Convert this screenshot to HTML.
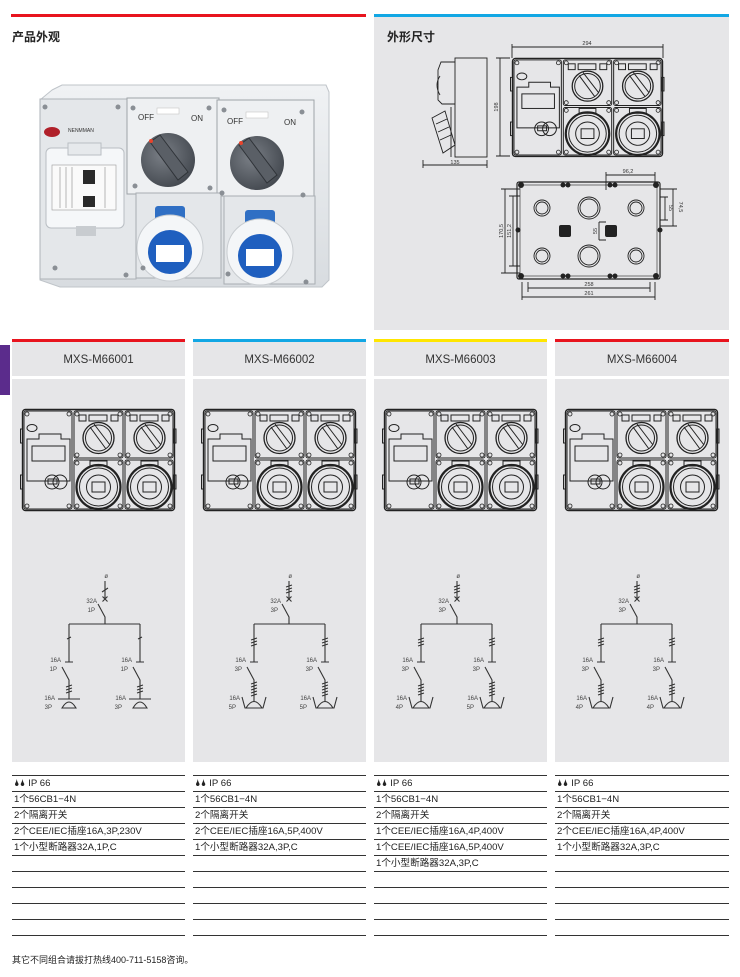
<!DOCTYPE html>
<html><head><meta charset="utf-8">
<style>
*{margin:0;padding:0;box-sizing:border-box}
body{width:740px;height:977px;background:#fff;position:relative;overflow:hidden;font-family:"Liberation Sans","Noto Sans CJK SC",sans-serif;color:#222}
.abs{position:absolute}
.gray{background:#e6e6e8}
.h{font-size:12px;font-weight:bold}
.mh{position:absolute;top:342px;height:34px;line-height:36px;text-align:center;font-size:11.5px;color:#333;background:#e6e6e8;width:173px}
.body{position:absolute;top:379px;height:383px;width:173px;background:#e6e6e8}
.tbl{position:absolute;top:775px;width:173px}
.tbl div{height:16px;border-top:1.6px solid #333;font-size:9.6px;line-height:15px;padding-left:2px;color:#222;white-space:nowrap}
</style></head><body>

<!-- top left -->
<div class="abs" style="left:11px;top:14px;width:355px;height:2.5px;background:#e8141e"></div>
<div class="abs h" style="left:12px;top:28px">产品外观</div>
<!-- top right -->
<div class="abs gray" style="left:374px;top:14px;width:355px;height:316px"></div>
<div class="abs" style="left:374px;top:14px;width:355px;height:3px;background:#12a7e4"></div>
<div class="abs h" style="left:387px;top:28px">外形尺寸</div>

<!-- purple tab -->
<div class="abs" style="left:0;top:345px;width:10px;height:50px;background:#5b2c8c"></div>

<!-- column headers -->
<div class="abs" style="left:12px;top:339px;width:173px;height:3px;background:#e8141e"></div>
<div class="abs" style="left:193px;top:339px;width:173px;height:3px;background:#12a7e4"></div>
<div class="abs" style="left:374px;top:339px;width:173px;height:3px;background:#ffe600"></div>
<div class="abs" style="left:555px;top:339px;width:174px;height:3px;background:#e8141e"></div>
<div class="mh" style="left:12px">MXS-M66001</div>
<div class="mh" style="left:193px">MXS-M66002</div>
<div class="mh" style="left:374px">MXS-M66003</div>
<div class="mh" style="left:555px;width:174px">MXS-M66004</div>
<div class="body" style="left:12px"></div>
<div class="body" style="left:193px"></div>
<div class="body" style="left:374px"></div>
<div class="body" style="left:555px;width:174px"></div>

<!-- tables -->
<div class="tbl" style="left:12px"><div>🌢🌢 IP 66</div><div>1个56CB1−4N</div><div>2个隔离开关</div><div>2个CEE/IEC插座16A,3P,230V</div><div>1个小型断路器32A,1P,C</div><div></div><div></div><div></div><div></div><div></div><div style="height:0"></div></div>
<div class="tbl" style="left:193px"><div>🌢🌢 IP 66</div><div>1个56CB1−4N</div><div>2个隔离开关</div><div>2个CEE/IEC插座16A,5P,400V</div><div>1个小型断路器32A,3P,C</div><div></div><div></div><div></div><div></div><div></div><div style="height:0"></div></div>
<div class="tbl" style="left:374px"><div>🌢🌢 IP 66</div><div>1个56CB1−4N</div><div>2个隔离开关</div><div>1个CEE/IEC插座16A,4P,400V</div><div>1个CEE/IEC插座16A,5P,400V</div><div>1个小型断路器32A,3P,C</div><div></div><div></div><div></div><div></div><div style="height:0"></div></div>
<div class="tbl" style="left:555px;width:174px"><div>🌢🌢 IP 66</div><div>1个56CB1−4N</div><div>2个隔离开关</div><div>2个CEE/IEC插座16A,4P,400V</div><div>1个小型断路器32A,3P,C</div><div></div><div></div><div></div><div></div><div></div><div style="height:0"></div></div>

<div class="abs" style="left:12px;top:953px;font-size:9px;color:#222">其它不同组合请拔打热线400-711-5158咨询。</div>

<svg class="abs" style="left:0;top:0" width="740" height="977" viewBox="0 0 740 977">
<defs>
<g id="dev" fill="none" stroke="#222" stroke-width="1">
  <rect x="0.5" y="0.5" width="152" height="101" rx="3" stroke-width="1.4"/>
  <rect x="-1.5" y="20" width="2" height="14"/><rect x="-1.5" y="66" width="2" height="14"/>
  <rect x="152" y="20" width="2" height="14"/><rect x="152" y="66" width="2" height="14"/>
  <rect x="2" y="2" width="48" height="98" rx="2"/>
  <rect x="52" y="2" width="49" height="47" rx="2"/>
  <rect x="103" y="2" width="48" height="47" rx="2"/>
  <rect x="52" y="51" width="49" height="49" rx="2"/>
  <rect x="103" y="51" width="48" height="49" rx="2"/>
  <g stroke-width="0.8">
  <circle cx="5" cy="5" r="2"/><circle cx="47" cy="5" r="2"/><circle cx="5" cy="97" r="2"/><circle cx="47" cy="97" r="2"/>
  <circle cx="55" cy="5" r="2"/><circle cx="98" cy="5" r="2"/><circle cx="55" cy="46" r="2"/><circle cx="98" cy="46" r="2"/>
  <circle cx="106" cy="5" r="2"/><circle cx="148" cy="5" r="2"/><circle cx="106" cy="46" r="2"/><circle cx="148" cy="46" r="2"/>
  <circle cx="55" cy="54" r="2"/><circle cx="98" cy="54" r="2"/><circle cx="55" cy="97" r="2"/><circle cx="98" cy="97" r="2"/>
  <circle cx="106" cy="54" r="2"/><circle cx="148" cy="54" r="2"/><circle cx="106" cy="97" r="2"/><circle cx="148" cy="97" r="2"/>
  </g>
  <ellipse cx="10" cy="19" rx="5" ry="3.5"/>
  <path d="M5 33 V30 H17 V25 H39 V30 H48 V72 H5 Z"/>
  <rect x="10" y="37" width="33" height="15"/>
  <circle cx="30" cy="73" r="7"/><circle cx="38" cy="73" r="7"/>
  <rect x="26" y="70" width="9" height="5"/>
  <g id="topm">
   <rect x="57" y="6" width="7" height="6"/><rect x="67" y="6" width="18" height="6"/><rect x="89" y="6" width="7" height="6"/>
   <circle cx="76.5" cy="29" r="15.5" stroke-width="1.3"/><circle cx="76.5" cy="29" r="13"/>
   <path d="M68 18 L84 40 M72 15 L88 36"/>
  </g>
  <use href="#topm" x="51"/>
  <g id="botm">
   <rect x="68" y="52" width="17" height="5"/>
   <circle cx="76.5" cy="78" r="22" stroke-width="2.2"/><circle cx="76.5" cy="78" r="19"/><circle cx="76.5" cy="78" r="12"/>
   <rect x="70" y="73" width="13" height="10"/>
  </g>
  <use href="#botm" x="51"/>
</g>
</defs>

<!-- column device drawings -->
<use href="#dev" x="22" y="409"/>
<use href="#dev" x="203" y="409"/>
<use href="#dev" x="384" y="409"/>
<use href="#dev" x="565" y="409"/>

<!-- dimension front view -->
<g transform="translate(512,58) scale(0.987,0.97)"><use href="#dev"/></g>

<!-- schematics -->
<g fill="none" stroke="#333" stroke-width="1.1" font-family="Liberation Sans, sans-serif">
<!-- col1 -->
<g>
 <path d="M105 581V598 M102 592 L108 588 M102.5 596.5 L107.5 601.5 M107.5 596.5 L102.5 601.5 M98 604 L105 617 V624 M69 624 H140 M69 624 V662 M65 662 H73 M140 624 V662 M136 662 H144 M67 639 L71 637 M138 639 L142 637"/>
 <path d="M62 667 L69 680 V699 M66 687 L72 685 M66 690 L72 688 M66 693 L72 691 M58 699 H80 M62 708 Q69 696 76 708 Z"/>
 <path d="M133 667 L140 680 V699 M137 687 L143 685 M137 690 L143 688 M137 693 L143 691 M129 699 H151 M133 708 Q140 696 147 708 Z"/>
</g>
<!-- col2 -->
<g>
 <path d="M289 581V598 M286 587 L292 585 M286 590 L292 588 M286 593 L292 591 M286.5 596.5 L291.5 601.5 M291.5 596.5 L286.5 601.5 M282 604 L289 617 V624 M254 624 H325 M254 624 V662 M250 662 H258 M325 624 V662 M321 662 H329 M251 640 L257 638 M251 643 L257 641 M251 646 L257 644 M322 640 L328 638 M322 643 L328 641 M322 646 L328 644"/>
 <path d="M247 667 L254 680 V702 M251 684 L257 682 M251 687 L257 685 M251 690 L257 688 M251 693 L257 691 M251 696 L257 694 M242 697 L245 708 H263 L266 697 M246 708 Q254 695 262 708"/>
 <path d="M318 667 L325 680 V702 M322 684 L328 682 M322 687 L328 685 M322 690 L328 688 M322 693 L328 691 M322 696 L328 694 M313 697 L316 708 H334 L337 697 M317 708 Q325 695 333 708"/>
</g>
<!-- col3 -->
<g>
 <path d="M457 581V598 M454 587 L460 585 M454 590 L460 588 M454 593 L460 591 M454.5 596.5 L459.5 601.5 M459.5 596.5 L454.5 601.5 M450 604 L457 617 V624 M421 624 H492 M421 624 V662 M417 662 H425 M492 624 V662 M488 662 H496 M418 640 L424 638 M418 643 L424 641 M418 646 L424 644 M489 640 L495 638 M489 643 L495 641 M489 646 L495 644"/>
 <path d="M414 667 L421 680 V702 M418 686 L424 684 M418 689 L424 687 M418 692 L424 690 M418 695 L424 693 M409 697 L412 708 H430 L433 697 M413 708 Q421 695 429 708"/>
 <path d="M485 667 L492 680 V702 M489 684 L495 682 M489 687 L495 685 M489 690 L495 688 M489 693 L495 691 M489 696 L495 694 M480 697 L483 708 H501 L504 697 M484 708 Q492 695 500 708"/>
</g>
<!-- col4 -->
<g>
 <path d="M637 581V598 M634 587 L640 585 M634 590 L640 588 M634 593 L640 591 M634.5 596.5 L639.5 601.5 M639.5 596.5 L634.5 601.5 M630 604 L637 617 V624 M601 624 H672 M601 624 V662 M597 662 H605 M672 624 V662 M668 662 H676 M598 640 L604 638 M598 643 L604 641 M598 646 L604 644 M669 640 L675 638 M669 643 L675 641 M669 646 L675 644"/>
 <path d="M594 667 L601 680 V702 M598 686 L604 684 M598 689 L604 687 M598 692 L604 690 M598 695 L604 693 M589 697 L592 708 H610 L613 697 M593 708 Q601 695 609 708"/>
 <path d="M665 667 L672 680 V702 M669 686 L675 684 M669 689 L675 687 M669 692 L675 690 M669 695 L675 693 M660 697 L663 708 H681 L684 697 M664 708 Q672 695 680 708"/>
</g>
</g>
<g font-family="Liberation Sans, sans-serif" font-size="6" fill="#444" text-anchor="end">
 <text x="108" y="578">ø</text><text x="97" y="603">32A</text><text x="95" y="612">1P</text>
 <text x="61" y="662">16A</text><text x="57" y="671">1P</text><text x="132" y="662">16A</text><text x="128" y="671">1P</text>
 <text x="55" y="700">16A</text><text x="52" y="709">3P</text><text x="126" y="700">16A</text><text x="122" y="709">3P</text>

 <text x="292" y="578">ø</text><text x="281" y="603">32A</text><text x="278" y="612">3P</text>
 <text x="246" y="662">16A</text><text x="242" y="671">3P</text><text x="317" y="662">16A</text><text x="313" y="671">3P</text>
 <text x="240" y="700">16A</text><text x="236" y="709">5P</text><text x="311" y="700">16A</text><text x="307" y="709">5P</text>

 <text x="460" y="578">ø</text><text x="449" y="603">32A</text><text x="446" y="612">3P</text>
 <text x="413" y="662">16A</text><text x="409" y="671">3P</text><text x="484" y="662">16A</text><text x="480" y="671">3P</text>
 <text x="407" y="700">16A</text><text x="403" y="709">4P</text><text x="478" y="700">16A</text><text x="474" y="709">5P</text>

 <text x="640" y="578">ø</text><text x="629" y="603">32A</text><text x="626" y="612">3P</text>
 <text x="593" y="662">16A</text><text x="589" y="671">3P</text><text x="664" y="662">16A</text><text x="660" y="671">3P</text>
 <text x="587" y="700">16A</text><text x="583" y="709">4P</text><text x="658" y="700">16A</text><text x="654" y="709">4P</text>
</g>

<!-- dimension drawing extras -->
<g fill="none" stroke="#222" stroke-width="0.9">
 <!-- side view -->
 <rect x="455" y="58" width="32" height="99"/>
 <path d="M455 62 H441 L438 70 V100 L442 104 H455"/>
 <path d="M440 76 Q434 85 440 95"/>
 <path d="M432 118 L445 111 L455 145 L443 153 Z M436 124 L447 119 M438 132 L449 127 M440 140 L451 135"/>
 <path d="M451 107 V157"/>
 <!-- dims -->
 <path d="M512 47 H663 M512 44 V58 M663 44 V58"/>
 <path d="M500 58 V156 M496 58 H510 M496 156 H510"/>
 <path d="M423 165 H487 M423 160 V168 M487 160 V168"/>
 <!-- bottom view -->
 <rect x="517" y="182" width="143" height="97" rx="2" stroke-width="1.2"/>
 <rect x="520" y="185" width="137" height="91" stroke-width="0.6"/>
 <circle cx="542" cy="208" r="8"/><circle cx="542" cy="208" r="6"/>
 <circle cx="589" cy="208" r="11"/><circle cx="589" cy="208" r="9"/>
 <circle cx="636" cy="208" r="8"/><circle cx="636" cy="208" r="6"/>
 <circle cx="542" cy="256" r="8"/><circle cx="542" cy="256" r="6"/>
 <circle cx="589" cy="256" r="11"/><circle cx="589" cy="256" r="9"/>
 <circle cx="636" cy="256" r="8"/><circle cx="636" cy="256" r="6"/>
 <path d="M606 175 H655 M606 172 V190 M655 172 V185"/>
 <path d="M505 189 V273 M501 189 H520 M501 273 H520"/>
 <path d="M513 196 V266 M509 196 H520 M509 266 H520"/>
 <path d="M673 189 V226 M660 189 H677 M660 226 H677"/>
 <path d="M665 197 V220 M660 197 H668 M660 220 H668"/>
 <path d="M599 222 V240 M599 222 H606 M599 240 H606"/>
 <path d="M528 288 H650 M528 282 V292 M650 282 V292"/>
 <path d="M522 297 H655 M522 282 V300 M655 282 V300"/>
</g>
<g fill="#222">
 <circle cx="521" cy="185" r="3"/><circle cx="656" cy="185" r="3"/><circle cx="521" cy="276" r="3"/><circle cx="656" cy="276" r="3"/>
 <circle cx="563" cy="185" r="2.5"/><circle cx="568" cy="185" r="2.5"/><circle cx="610" cy="185" r="2.5"/><circle cx="615" cy="185" r="2.5"/>
 <circle cx="563" cy="276" r="2.5"/><circle cx="568" cy="276" r="2.5"/><circle cx="610" cy="276" r="2.5"/><circle cx="615" cy="276" r="2.5"/>
 <rect x="559" y="225" width="12" height="12" rx="2"/><rect x="605" y="225" width="12" height="12" rx="2"/>
 <circle cx="518" cy="230" r="2.5"/><circle cx="660" cy="230" r="2.5"/>
</g>
<g font-family="Liberation Sans, sans-serif" font-size="5.5" fill="#333" text-anchor="middle">
 <text x="587" y="45">294</text>
 <text x="455" y="164">135</text>
 <text x="628" y="173">96,2</text>
 <text x="589" y="286">258</text>
 <text x="589" y="295">261</text>
 <text transform="translate(498,107) rotate(-90)">198</text>
 <text transform="translate(503,231) rotate(-90)">170,5</text>
 <text transform="translate(511,231) rotate(-90)">151,2</text>
 <text transform="translate(679,207) rotate(90)">74,5</text>
 <text transform="translate(669,208) rotate(90)">55</text>
 <text transform="translate(597,231) rotate(-90)">55</text>
</g>

<!-- photo -->
<defs>
 <linearGradient id="pg" x1="0" y1="0" x2="0" y2="1"><stop offset="0" stop-color="#f0f2f4"/><stop offset="1" stop-color="#d8dce0"/></linearGradient>
 <radialGradient id="knob" cx="0.4" cy="0.4" r="0.7"><stop offset="0" stop-color="#7a7f86"/><stop offset="1" stop-color="#3f444b"/></radialGradient>
</defs>
<path d="M52 90 L62 85 H326 L329 92 V280 L322 287 H60 L40 280 V100 Z" fill="url(#pg)" stroke="#bfc4c9"/>
<rect x="40" y="99" width="96" height="180" fill="#e4e7ea" stroke="#aeb3b8"/>
<rect x="127" y="98" width="92" height="96" fill="#eef0f2" stroke="#9ea3a8"/>
<rect x="217" y="100" width="97" height="96" fill="#eef0f2" stroke="#9ea3a8"/>
<rect x="136" y="193" width="85" height="85" fill="#e4e7ea" stroke="#a8adb2"/>
<rect x="224" y="196" width="91" height="88" fill="#e4e7ea" stroke="#a8adb2"/>
<circle cx="168" cy="160" r="27" fill="url(#knob)"/>
<path d="M150 142 L178 180 L188 172 L160 135 Z" fill="#5a5f66" stroke="#2f3338"/>
<circle cx="151" cy="141" r="2" fill="#e8442c"/>
<circle cx="257" cy="163" r="27" fill="url(#knob)"/>
<path d="M239 145 L267 183 L277 175 L249 138 Z" fill="#5a5f66" stroke="#2f3338"/>
<circle cx="241" cy="143" r="2" fill="#e8442c"/>
<text x="138" y="120" font-family="Liberation Sans, sans-serif" font-size="8" fill="#333">OFF</text>
<text x="191" y="121" font-family="Liberation Sans, sans-serif" font-size="8" fill="#333">ON</text>
<text x="227" y="124" font-family="Liberation Sans, sans-serif" font-size="8" fill="#333">OFF</text>
<text x="284" y="125" font-family="Liberation Sans, sans-serif" font-size="8" fill="#333">ON</text>
<rect x="157" y="108" width="22" height="6" fill="#fff" stroke="#bbb" stroke-width="0.5"/>
<rect x="246" y="112" width="22" height="6" fill="#fff" stroke="#bbb" stroke-width="0.5"/>
<rect x="155" y="206" width="30" height="15" rx="3" fill="#2f6fc4"/>
<circle cx="170" cy="248" r="33" fill="#f4f6f8" stroke="#c8ccd0"/>
<circle cx="170" cy="252" r="22" fill="#1f5fbf"/>
<rect x="156" y="245" width="28" height="17" fill="#fff"/>
<rect x="245" y="210" width="30" height="15" rx="3" fill="#2f6fc4"/>
<circle cx="260" cy="252" r="33" fill="#f4f6f8" stroke="#c8ccd0"/>
<circle cx="260" cy="256" r="22" fill="#1f5fbf"/>
<rect x="246" y="249" width="28" height="17" fill="#fff"/>
<rect x="46" y="148" width="78" height="80" rx="5" fill="#f5f7f9" stroke="#b9bec3"/>
<rect x="52" y="165" width="64" height="45" fill="#fafafa" stroke="#999" stroke-width="0.6"/>
<rect x="83" y="170" width="12" height="14" fill="#2a2a2a"/>
<rect x="83" y="196" width="12" height="11" fill="#2a2a2a"/>
<path d="M60 167 V208 M66 167 V208 M72 167 V208 M105 167 V208" stroke="#888" stroke-width="0.6"/>
<rect x="68" y="143" width="33" height="12" fill="#e6e9ec" stroke="#b9bec3"/>
<rect x="76" y="226" width="20" height="10" fill="#c8ccd0"/>
<ellipse cx="52" cy="132" rx="8" ry="5" fill="#b0202a"/>
<text x="68" y="132" font-family="Liberation Sans, sans-serif" font-size="5" fill="#333">NENMMAN</text>
<g fill="#8a8f95">
 <circle cx="45" cy="107" r="2.5"/><circle cx="118" cy="107" r="2.5"/><circle cx="55" cy="268" r="2.5"/><circle cx="126" cy="275" r="2.5"/>
 <circle cx="133" cy="108" r="2.5"/><circle cx="209" cy="108" r="2.5"/><circle cx="135" cy="186" r="2.5"/><circle cx="210" cy="188" r="2.5"/>
 <circle cx="224" cy="110" r="2.5"/><circle cx="302" cy="112" r="2.5"/><circle cx="222" cy="193" r="2.5"/><circle cx="303" cy="195" r="2.5"/>
 <circle cx="143" cy="268" r="2.5"/><circle cx="228" cy="274" r="2.5"/><circle cx="306" cy="282" r="2.5"/>
</g>
</svg>
</body></html>
